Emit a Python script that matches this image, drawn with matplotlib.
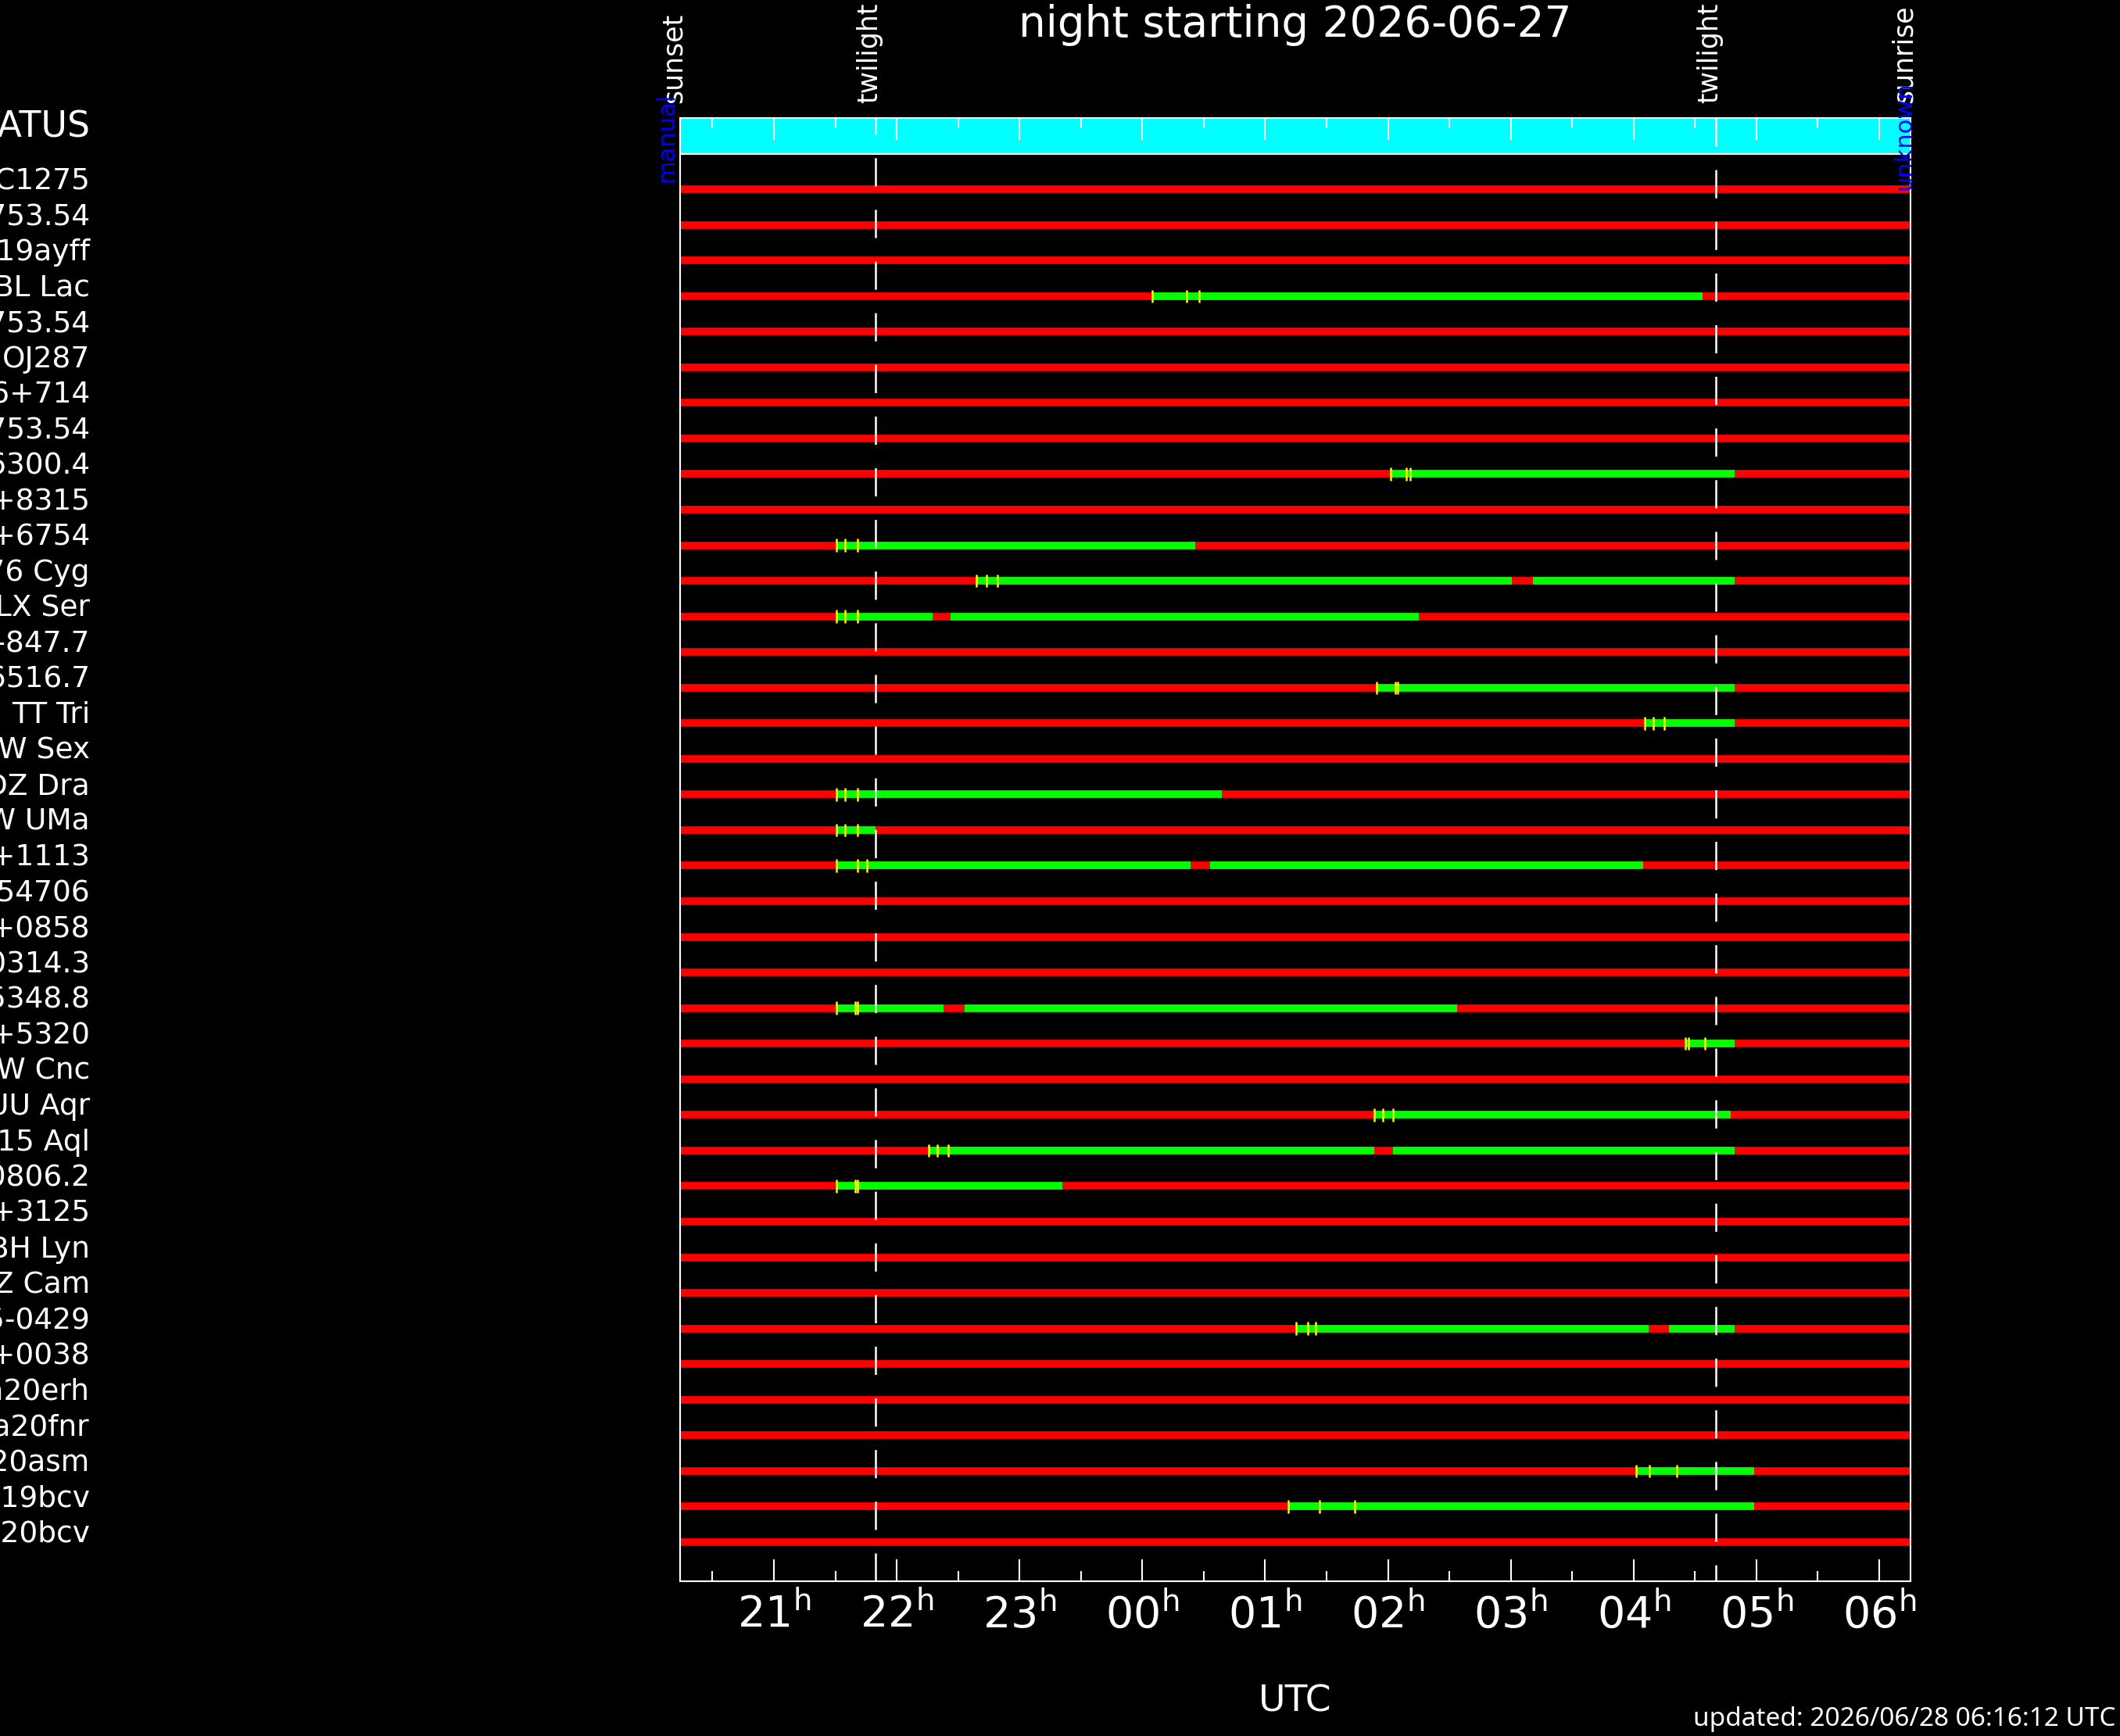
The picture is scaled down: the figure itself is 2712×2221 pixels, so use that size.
import matplotlib
matplotlib.use('Agg')
import matplotlib.pyplot as plt

plt.rcParams['font.family'] = ['DejaVu Sans']
plt.rcParams['mathtext.fontset'] = 'dejavusans'
plt.rcParams['lines.scale_dashes'] = False

# night geometry (decimal UT hours, counted past 24 after midnight)
sunset_h = 20.236
twilight_eve = 21.828
twilight_morn = 28.670
sunrise_h = 30.255

title = 'night starting 2026-06-27'
updated = 'updated: 2026/06/28 06:16:12 UTC'

targets = [
    'NGC1275', 'Gaia 2753.54', 'AT 19ayff', 'BL Lac', 'Gaia 2753.54',
    'OJ287', 'S5 0716+714', 'Gaia 2753.54', 'GSC 6300.4', 'TYC 0415+8315',
    'TYC 1959+6754', 'V476 Cyg', 'LX Ser', 'GALEX J1547-847.7', 'CSS 6516.7',
    'TT Tri', 'RW Sex', 'DZ Dra', 'SW UMa', 'SDSS J1012+1113',
    'HIP 54706', 'SDSS J1431+0858', 'XMM J0314.3', 'GSC 5348.8', 'TYC 3815+5320',
    'AW Cnc', 'UU Aqr', 'V1315 Aql', 'RX J0806.2', 'TYC 1205+3125',
    'BH Lyn', 'Z Cam', 'SDSS J1115-0429', 'SDSS J1238+0038', 'Gaia20erh',
    'Gaia20fnr', 'Gaia20asm', 'AT 19bcv', 'AT 20bcv',
]

# observable windows (row number, start, end)
green_rows = [4, 9, 11, 12, 12, 13, 13, 15, 16, 18, 19, 20, 20, 24, 24,
              25, 27, 28, 28, 29, 33, 33, 37, 38]
green_start = [24.08, 26.02, 21.51, 22.65, 27.18, 21.51, 22.44, 25.91, 28.09,
               21.51, 21.51, 21.51, 24.55, 21.51, 22.55, 28.42, 25.89, 22.26,
               26.04, 21.51, 25.25, 28.29, 28.02, 25.19]
green_end = [28.56, 28.82, 24.43, 27.01, 28.82, 22.29, 26.25, 28.82, 28.82,
             24.65, 21.83, 24.39, 28.08, 22.38, 26.56, 28.82, 28.79, 25.89,
             28.82, 23.35, 28.12, 28.82, 28.98, 28.98]

# yellow markers (row number, time)
mark_rows = [4, 4, 4, 9, 9, 9, 11, 11, 11, 12, 12, 12, 13, 13, 13,
             15, 15, 15, 16, 16, 16, 18, 18, 18, 19, 19, 19, 20, 20, 20,
             24, 24, 24, 25, 25, 25, 27, 27, 27, 28, 28, 28, 29, 29, 29,
             33, 33, 33, 37, 37, 37, 38, 38, 38]
mark_time = [24.08, 24.36, 24.46, 26.02, 26.15, 26.18, 21.51, 21.58, 21.68,
             22.65, 22.73, 22.82, 21.51, 21.58, 21.68, 25.91, 26.06, 26.08,
             28.09, 28.16, 28.25, 21.51, 21.58, 21.68, 21.51, 21.58, 21.68,
             21.51, 21.68, 21.76, 21.51, 21.66, 21.68, 28.42, 28.45, 28.58,
             25.89, 25.96, 26.04, 22.26, 22.33, 22.42, 21.51, 21.66, 21.68,
             25.25, 25.35, 25.41, 28.02, 28.13, 28.35, 25.19, 25.44, 25.73]

hour_ticks = [21, 22, 23, 24, 25, 26, 27, 28, 29, 30]
hour_labels = ['21', '22', '23', '00', '01', '02', '03', '04', '05', '06']
half_ticks = [20.5, 21.5, 22.5, 23.5, 24.5, 25.5, 26.5, 27.5, 28.5, 29.5]

W, H = 2712, 2221
fig = plt.figure(figsize=(W / 100, H / 100), dpi=100, facecolor='black')
ax = fig.add_axes([870 / W, 1 - 2023 / H, (2444 - 870) / W, (2023 - 151) / H])
ax.set_facecolor('black')

rows = list(range(1, len(targets) + 1))
ax.set_xlim(sunset_h, sunrise_h)
ax.set_ylim(len(targets) + 1.1, -1)

# status band on top
ax.axhspan(-1, 0, color='#00ffff', lw=0, zorder=0)
ax.axhline(0, color='white', lw=1.6, zorder=3)

ax.hlines(rows, sunset_h, sunrise_h, colors='#ff0000', lw=7.0, capstyle='butt', zorder=1)
ax.hlines(green_rows, green_start, green_end, colors='#00ff00', lw=7.0, capstyle='butt', zorder=2)
ax.vlines(mark_time, [r - 0.18 for r in mark_rows], [r + 0.18 for r in mark_rows],
          colors='#ffff00', lw=1.8, zorder=3)

# twilight lines
ytop, ybot = ax.get_ylim()[1], ax.get_ylim()[0]
ax.plot([twilight_eve, twilight_eve], [ybot, ytop], color='white', lw=1.8,
        ls=(0, (26, 21.6)), zorder=4)
ax.plot([twilight_morn, twilight_morn], [ytop, ybot], color='white', lw=1.8,
        ls=(0, (26, 21.6)), zorder=4)

for s in ax.spines.values():
    s.set_color('white')
    s.set_linewidth(1.5)

ax.set_xticks(hour_ticks)
ax.set_xticklabels([r'$%s^{\mathrm{h}}$' % l for l in hour_labels])
ax.set_xticks(half_ticks, minor=True)
ax.tick_params(axis='x', which='both', direction='in', top=True, bottom=True,
               colors='white', width=1.5, labelsize=40, pad=11)
ax.tick_params(axis='x', which='major', length=20)
ax.tick_params(axis='x', which='minor', length=9.5)

ax.set_yticks(rows)
ax.set_yticklabels(targets)
ax.tick_params(axis='y', length=0, pad=(870 - 115) * 0.72, labelsize=27, labelcolor='white')
for lab in ax.get_yticklabels():
    lab.set_va('baseline')

ax.set_title(title, color='white', fontsize=39.5, pad=75)
ax.set_xlabel('UTC', color='white', fontsize=34)
ax.xaxis.set_label_coords(0.5, -0.0705)

fig.text(115 / W, 1 - 175 / H, 'TARGET STATUS', color='white', fontsize=33,
         ha='right', va='baseline')

# sun / twilight markers above the frame
for name, t in zip(['sunset', 'twilight', 'twilight', 'sunrise'],
                   [sunset_h, twilight_eve, twilight_morn, sunrise_h]):
    ax.annotate(name, xy=(t, 1), xycoords=('data', 'axes fraction'),
                xytext=(1.5, 14), textcoords='offset points', rotation=90,
                rotation_mode='anchor', ha='left', va='baseline',
                fontsize=25, color='white', annotation_clip=False)

ax.annotate('manual', xy=(sunset_h, 1), xycoords=('data', 'axes fraction'),
            xytext=(-6.5, -59), textcoords='offset points', rotation=90,
            rotation_mode='anchor', ha='left', va='baseline',
            fontsize=22, color='#0000ff', annotation_clip=False, zorder=6)
ax.annotate('unknown', xy=(sunrise_h, 1), xycoords=('data', 'axes fraction'),
            xytext=(0, -66), textcoords='offset points', rotation=90,
            rotation_mode='anchor', ha='left', va='baseline',
            fontsize=22, color='#0000ff', annotation_clip=False, zorder=6)

fig.text(2707 / W, 1 - 2208 / H, updated, color='white', fontsize=24,
         family=['Noto Sans', 'DejaVu Sans'], ha='right', va='baseline')

fig.savefig('out.png', dpi=100, facecolor='black')
